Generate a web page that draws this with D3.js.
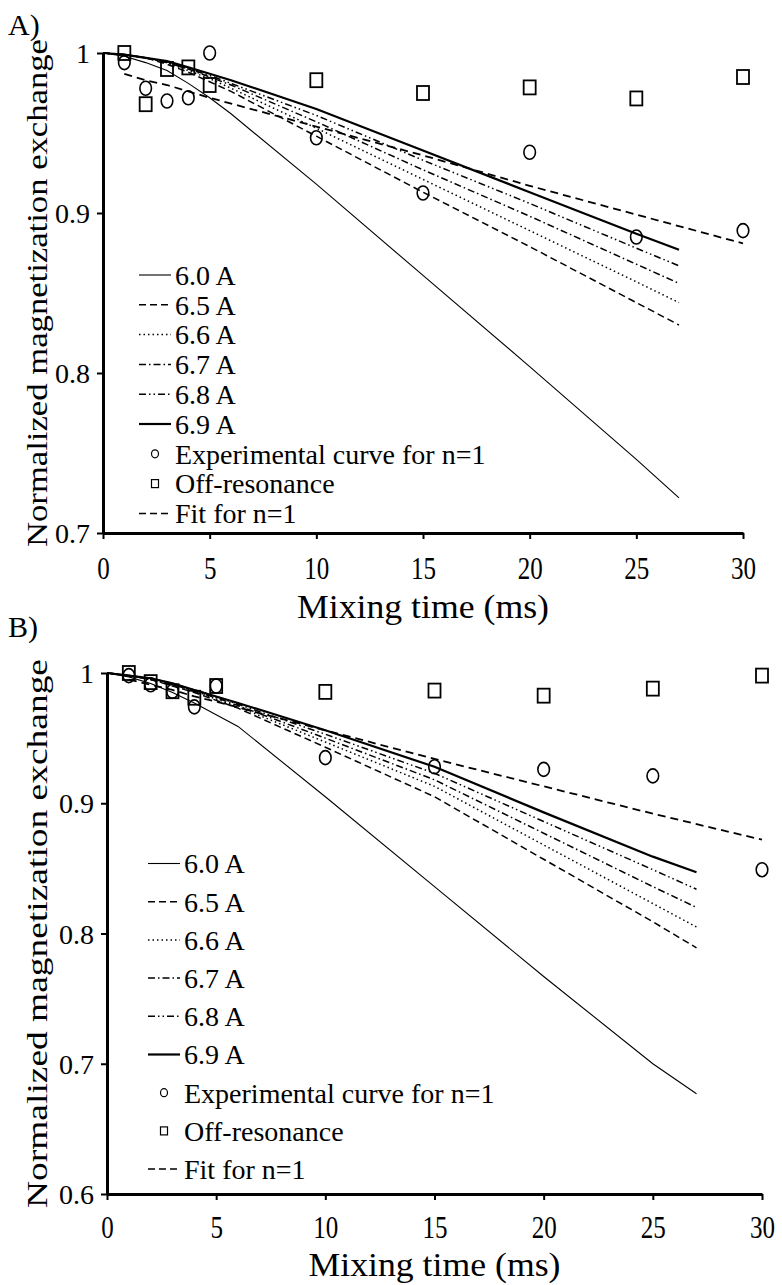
<!DOCTYPE html>
<html lang="en">
<head>
<meta charset="utf-8">
<title>Magnetization exchange</title>
<script src="https://cdn.jsdelivr.net/npm/d3@7/dist/d3.min.js"></script>
<style>
  body { margin: 0; background: #fff; }
  svg { display: block; }
  text { font-family: "Liberation Serif", "Times New Roman", serif; fill: #000; }
</style>
</head>
<body>
<script>
// ---- data ----
var expTimes = [1, 2, 3, 4, 5, 10, 15, 20, 25, 30];
var simTimes = [0, 1, 2, 3, 4, 5, 6, 10, 15, 20, 25, 27];
var xTicks = [0, 5, 10, 15, 20, 25, 30];

// panel A
var expA = [0.994, 0.978, 0.970, 0.972, 1.000, 0.947, 0.9125, 0.938, 0.885, 0.889];
var offA = [1.000, 0.968, 0.990, 0.991, 0.980, 0.983, 0.975, 0.9785, 0.9716, 0.985];
var fitA = [0.987, 0.983, 0.980, 0.976, 0.972, 0.954, 0.936, 0.917, 0.899, 0.881];
var simA60 = [1, 0.998, 0.994, 0.989, 0.981, 0.972, 0.962, 0.918, 0.861, 0.804, 0.746, 0.722];
var simA65 = [1, 0.999, 0.997, 0.993, 0.988, 0.982, 0.976, 0.948, 0.913, 0.879, 0.844, 0.830];
var simA66 = [1, 0.999, 0.997, 0.994, 0.989, 0.984, 0.978, 0.953, 0.921, 0.889, 0.857, 0.844];
var simA67 = [1, 0.999, 0.997, 0.994, 0.990, 0.985, 0.980, 0.957, 0.927, 0.898, 0.868, 0.856];
var simA68 = [1, 0.999, 0.997, 0.994, 0.990, 0.986, 0.981, 0.961, 0.933, 0.906, 0.878, 0.867];
var simA69 = [1, 0.999, 0.997, 0.995, 0.991, 0.987, 0.983, 0.965, 0.939, 0.913, 0.887, 0.877];

// panel B
var expB = [0.998, 0.991, 0.986, 0.974, 0.990, 0.935, 0.928, 0.926, 0.921, 0.849];
var offB = [1.000, 0.993, 0.986, 0.981, 0.990, 0.9855, 0.9865, 0.9826, 0.988, 0.998];
var fitB = [0.995, 0.991, 0.987, 0.982, 0.978, 0.956, 0.934, 0.913, 0.892, 0.872];
var simB60 = [1, 0.997, 0.992, 0.985, 0.977, 0.968, 0.959, 0.905, 0.836, 0.767, 0.700, 0.677];
var simB65 = [1, 0.998, 0.995, 0.990, 0.985, 0.979, 0.973, 0.943, 0.905, 0.857, 0.809, 0.789];
var simB66 = [1, 0.998, 0.995, 0.991, 0.986, 0.980, 0.974, 0.947, 0.913, 0.868, 0.823, 0.805];
var simB67 = [1, 0.998, 0.995, 0.991, 0.986, 0.981, 0.975, 0.950, 0.918, 0.877, 0.836, 0.820];
var simB68 = [1, 0.998, 0.996, 0.992, 0.987, 0.982, 0.976, 0.953, 0.923, 0.886, 0.849, 0.834];
var simB69 = [1, 0.998, 0.996, 0.992, 0.987, 0.982, 0.977, 0.956, 0.928, 0.893, 0.859, 0.847];

var simLabels = ["6.0 A", "6.5 A", "6.6 A", "6.7 A", "6.8 A", "6.9 A"];
var pointLabels = ["Experimental curve for n=1", "Off-resonance"];
var fitLabel = "Fit for n=1";

// line look for each simulated curve (same order as simLabels)
var simStyle = [
  { w: 1.1, dash: null },
  { w: 1.5, dash: "7,4" },
  { w: 1.5, dash: "1.5,3" },
  { w: 1.5, dash: "7,3,1.5,3" },
  { w: 1.5, dash: "7,3,1.5,3,1.5,3" },
  { w: 2.2, dash: null }
];

var width = 782, height = 1285;

var svg = d3.select("body").append("svg")
    .attr("width", width)
    .attr("height", height);

var panels = [
  { tag: "A)", tagY: 35, x0: 103, x1: 743, y0: 533, y1: 53, yDomain: [0.7, 1],
    yTicks: [0.7, 0.8, 0.9, 1], sims: [simA60, simA65, simA66, simA67, simA68, simA69],
    exp: expA, off: offA, fit: fitA,
    legX: 139, legY: 275, legStep: 29.8, tickY: 579, titleY: 618 },
  { tag: "B)", tagY: 637, x0: 107, x1: 762, y0: 1194, y1: 673, yDomain: [0.6, 1],
    yTicks: [0.6, 0.7, 0.8, 0.9, 1], sims: [simB60, simB65, simB66, simB67, simB68, simB69],
    exp: expB, off: offB, fit: fitB,
    legX: 148, legY: 863.5, legStep: 38.2, tickY: 1238, titleY: 1276 }
];

panels.forEach(drawPanel);

function drawPanel(p) {
  var x = d3.scaleLinear().domain([0, 30]).range([p.x0, p.x1]);
  var y = d3.scaleLinear().domain(p.yDomain).range([p.y0, p.y1]);
  var g = svg.append("g");

  g.append("text")
    .attr("x", 8).attr("y", p.tagY)
    .attr("font-size", 30)
    .text(p.tag);

  // axes
  var xAxis = g.append("g")
    .attr("transform", "translate(0," + p.y0 + ")")
    .call(d3.axisBottom(x).tickValues(xTicks).tickSize(6).tickSizeOuter(0).tickFormat(d3.format("d")));
  xAxis.selectAll("text")
    .attr("y", p.tickY - p.y0)
    .attr("dy", 0)
    .attr("font-size", 31)
    .attr("font-family", "Liberation Serif")
    .attr("textLength", function(d) { return String(d).length * 12.5; })
    .attr("lengthAdjust", "spacingAndGlyphs");

  var yAxis = g.append("g")
    .attr("transform", "translate(" + p.x0 + ",0)")
    .call(d3.axisLeft(y).tickValues(p.yTicks).tickSize(6).tickSizeOuter(0)
      .tickFormat(function(d) { return d === 1 ? "1" : d3.format(".1f")(d); }));
  yAxis.selectAll("text")
    .attr("x", -13)
    .attr("dy", "0.34em")
    .attr("font-size", 28)
    .attr("font-family", "Liberation Serif");

  [xAxis, yAxis].forEach(function(a) {
    a.select(".domain").attr("stroke", "#000").attr("stroke-width", 3);
    a.selectAll(".tick line").attr("stroke", "#000").attr("stroke-width", 2);
  });

  // axis titles
  g.append("text")
    .attr("x", (p.x0 + p.x1) / 2).attr("y", p.titleY)
    .attr("text-anchor", "middle")
    .attr("font-size", 33)
    .attr("textLength", 252)
    .attr("lengthAdjust", "spacingAndGlyphs")
    .text("Mixing time (ms)");

  var cy = (p.y0 + p.y1) / 2;
  g.append("text")
    .attr("transform", "translate(36," + cy + ") rotate(-90)")
    .attr("text-anchor", "middle")
    .attr("dy", "0.35em")
    .attr("font-size", 30)
    .attr("textLength", p.y0 - p.y1 + 28)
    .attr("lengthAdjust", "spacingAndGlyphs")
    .text("Normalized magnetization exchange");

  // simulated curves
  var line = d3.line().x(function(d) { return x(d[0]); }).y(function(d) { return y(d[1]); });
  p.sims.forEach(function(vals, i) {
    g.append("path")
      .datum(simTimes.map(function(t, j) { return [t, vals[j]]; }))
      .attr("d", line)
      .attr("fill", "none")
      .attr("stroke", "#000")
      .attr("stroke-width", simStyle[i].w)
      .attr("stroke-dasharray", simStyle[i].dash);
  });

  // fit line
  g.append("path")
    .datum(expTimes.map(function(t, j) { return [t, p.fit[j]]; }))
    .attr("d", line)
    .attr("fill", "none")
    .attr("stroke", "#000")
    .attr("stroke-width", 1.8)
    .attr("stroke-dasharray", "8,5");

  // off-resonance squares
  g.selectAll(".off").data(expTimes.map(function(t, j) { return [t, p.off[j]]; }))
    .enter().append("rect")
    .attr("class", "off")
    .attr("x", function(d) { return x(d[0]) - 6; })
    .attr("y", function(d) { return y(d[1]) - 7; })
    .attr("width", 12).attr("height", 14)
    .attr("fill", "none").attr("stroke", "#000").attr("stroke-width", 1.8);

  // experimental circles
  g.selectAll(".exp").data(expTimes.map(function(t, j) { return [t, p.exp[j]]; }))
    .enter().append("ellipse")
    .attr("class", "exp")
    .attr("cx", function(d) { return x(d[0]); })
    .attr("cy", function(d) { return y(d[1]); })
    .attr("rx", 5.8).attr("ry", 7)
    .attr("fill", "none").attr("stroke", "#000").attr("stroke-width", 1.6);

  // legend
  var leg = g.append("g");
  var rows = simLabels.concat(pointLabels, [fitLabel]);
  rows.forEach(function(lab, i) {
    var ry = p.legY + i * p.legStep;
    var tx = p.legX + 36;
    if (i < 6) {
      leg.append("line")
        .attr("x1", p.legX).attr("x2", p.legX + 32)
        .attr("y1", ry).attr("y2", ry)
        .attr("stroke", "#000")
        .attr("stroke-width", simStyle[i].w)
        .attr("stroke-dasharray", simStyle[i].dash);
    } else if (i === 6) {
      leg.append("ellipse")
        .attr("cx", p.legX + 16).attr("cy", ry)
        .attr("rx", 3.5).attr("ry", 4)
        .attr("fill", "none").attr("stroke", "#000").attr("stroke-width", 1.2);
    } else if (i === 7) {
      leg.append("rect")
        .attr("x", p.legX + 12.5).attr("y", ry - 4)
        .attr("width", 7).attr("height", 8)
        .attr("fill", "none").attr("stroke", "#000").attr("stroke-width", 1.2);
    } else {
      leg.append("line")
        .attr("x1", p.legX).attr("x2", p.legX + 32)
        .attr("y1", ry).attr("y2", ry)
        .attr("stroke", "#000").attr("stroke-width", 1.5)
        .attr("stroke-dasharray", "7,4");
    }
    leg.append("text")
      .attr("x", tx).attr("y", ry)
      .attr("dy", "0.35em")
      .attr("font-size", 28)
      .text(lab);
  });
}
</script>
</body>
</html>
